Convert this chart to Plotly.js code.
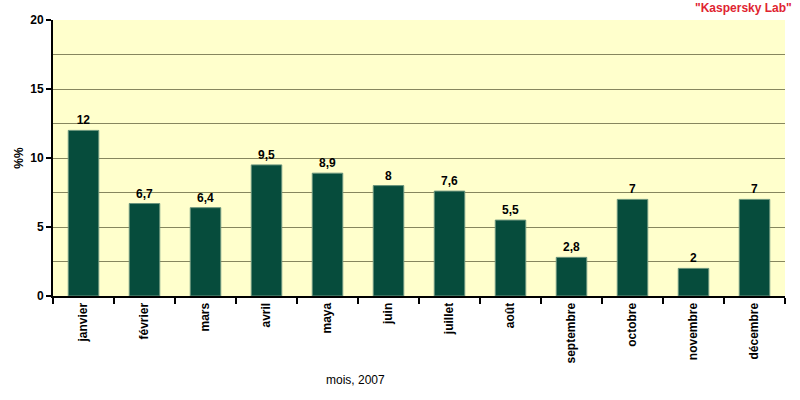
<!DOCTYPE html>
<html>
<head>
<meta charset="utf-8">
<script src="https://cdn.plot.ly/plotly-3.0.1.min.js"></script>
<style>
  html, body { margin: 0; padding: 0; background: #fff; }
  #chart { width: 800px; height: 400px; }
</style>
</head>
<body>
<div id="chart"></div>
<script>
// donnees
const months = ['janvier', 'février', 'mars', 'avril', 'maya', 'juin',
                'juillet', 'août', 'septembre', 'octobre', 'novembre', 'décembre'];
const shares = [12, 6.7, 6.4, 9.5, 8.9, 8, 7.6, 5.5, 2.8, 7, 2, 7];
const shareLabels = ['12', '6,7', '6,4', '9,5', '8,9', '8', '7,6', '5,5', '2,8', '7', '2', '7'];
const yTicks = [0, 5, 10, 15, 20];

const FONT = 'Liberation Sans, Arial, sans-serif';

const trace = {
    type: 'bar',
    x: months,
    y: shares,
    text: shareLabels,
    textposition: 'outside',
    cliponaxis: false,
    textfont: { family: FONT, size: 12, color: '#000', weight: 'bold' },
    marker: { color: '#064c3c', line: { color: '#6a947c', width: 1 } },
    hoverinfo: 'x+y'
};

const layout = {
    width: 800,
    height: 400,
    margin: { l: 53, r: 15, t: 20, b: 104 },
    paper_bgcolor: '#ffffff',
    plot_bgcolor: '#ffffcc',
    bargap: 0.5,
    showlegend: false,
    font: { family: FONT, size: 12, color: '#000' },
    xaxis: {
        type: 'category',
        tickangle: -90,
        tickson: 'boundaries',
        ticks: 'outside',
        ticklen: 6,
        tickwidth: 2,
        tickcolor: '#000',
        showline: true,
        linecolor: '#000',
        linewidth: 2,
        showgrid: false,
        tickfont: { family: FONT, size: 12, weight: 'bold' }
    },
    yaxis: {
        range: [0, 20],
        tickvals: yTicks,
        ticks: 'outside',
        ticklen: 5,
        tickwidth: 2,
        tickcolor: '#000',
        showline: true,
        linecolor: '#000',
        linewidth: 2,
        zeroline: false,
        gridcolor: '#86865e',
        gridwidth: 1,
        minor: { dtick: 2.5, showgrid: true, gridcolor: '#86865e', gridwidth: 1 },
        tickfont: { family: FONT, size: 12, weight: 'bold' },
        title: { text: '%%', font: { family: FONT, size: 12, weight: 'bold' }, standoff: 4 }
    },
    annotations: [
        {
            text: '"Kaspersky Lab"',
            xref: 'paper', yref: 'paper', x: 1.012, y: 1.01,
            xanchor: 'right', yanchor: 'bottom', showarrow: false,
            font: { family: FONT, size: 12, color: '#e02431', weight: 'bold' }
        },
        {
            text: 'mois, 2007',
            xref: 'paper', yref: 'paper', x: 0.413, y: -0.305,
            xanchor: 'center', yanchor: 'middle', showarrow: false,
            font: { family: FONT, size: 12, color: '#000' }
        }
    ]
};

Plotly.newPlot('chart', [trace], layout, { displayModeBar: false, staticPlot: true });
</script>
</body>
</html>
